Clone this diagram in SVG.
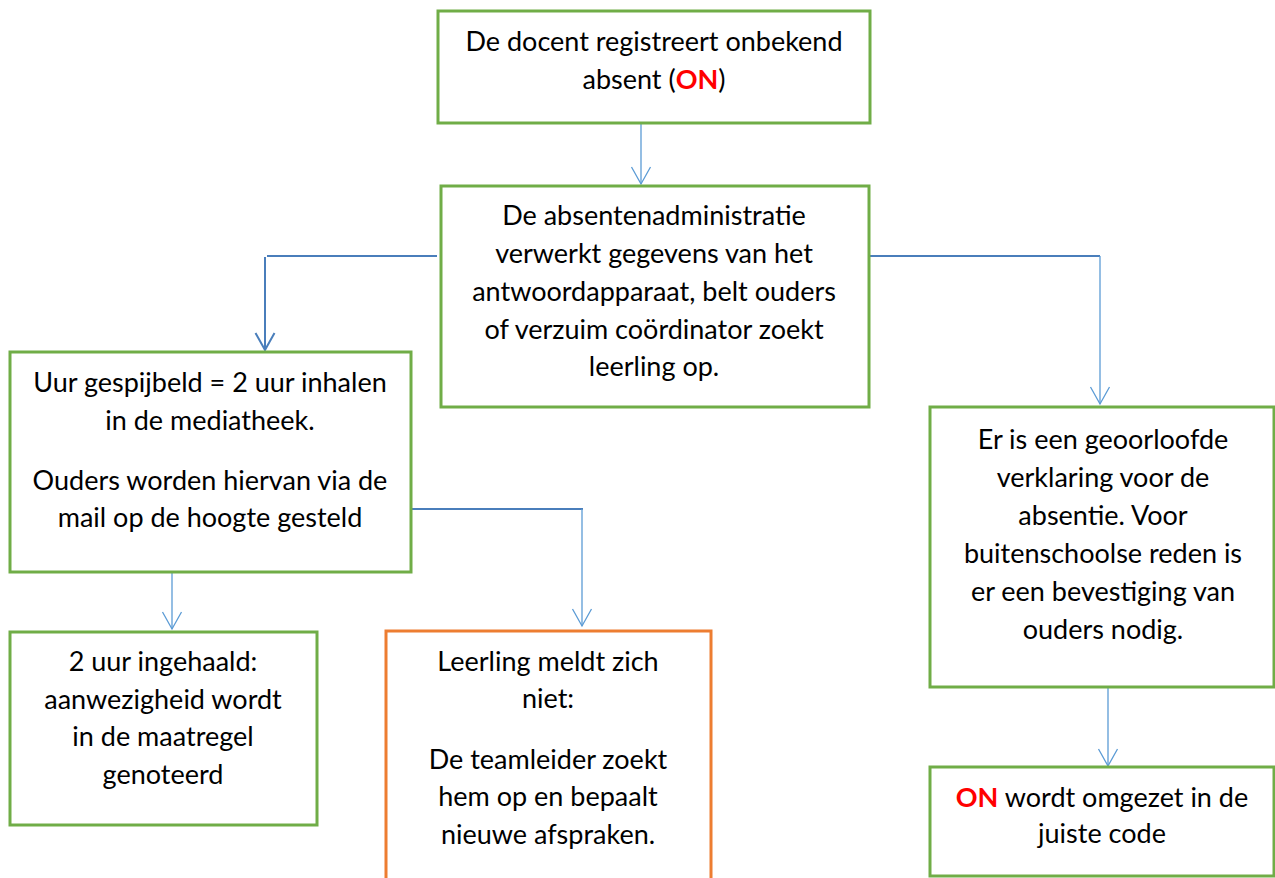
<svg xmlns="http://www.w3.org/2000/svg" width="1275" height="878" viewBox="0 0 1275 878">
<defs>
<style>
.box{fill:#fff;stroke:#70ad47;stroke-width:3}
.obox{fill:#fff;stroke:#ed7d31;stroke-width:3}
.t{font-family:Lato,"Open Sans","Liberation Sans",sans-serif;font-size:27px;fill:#000;text-anchor:middle}
.red{fill:#ff0000;font-weight:bold}
.thick{fill:none;stroke:#4a7ebb;stroke-width:2}
.thin{fill:none;stroke:#5b9bd5;stroke-width:1.3}
</style>
<marker id="ah" markerUnits="userSpaceOnUse" viewBox="-20 -12 22 24" refX="0" refY="0" markerWidth="22" markerHeight="24" orient="auto">
<path d="M-17,-9.5 L0,0 L-17,9.5" fill="none" stroke="#5b9bd5" stroke-width="1.3"/>
</marker>
<marker id="ahb" markerUnits="userSpaceOnUse" viewBox="-20 -12 22 24" refX="0" refY="0" markerWidth="22" markerHeight="24" orient="auto">
<path d="M-17,-9.5 L0,0 L-17,9.5" fill="none" stroke="#4a7ebb" stroke-width="2"/>
</marker>
</defs>
<rect width="1275" height="878" fill="#fff"/>
<g id="connectors">
<path class="thin" d="M641,124 V184" marker-end="url(#ah)"/>
<path class="thick" d="M437,256 H267"/>
<path class="thick" d="M265,257 V350" marker-end="url(#ahb)"/>
<path class="thick" d="M870,256 H1100"/>
<path class="thin" d="M1100,256 V404" marker-end="url(#ah)"/>
<path class="thick" d="M412,509 H583"/>
<path class="thin" d="M582,509 V626" marker-end="url(#ah)"/>
<path class="thin" d="M172,573 V629" marker-end="url(#ah)"/>
<path class="thin" d="M1108,687 V766" marker-end="url(#ah)"/>
</g>
<g id="n1">
<rect class="box" x="438" y="11" width="432" height="112"/>
<text class="t" x="654" y="51">De docent registreert onbekend</text>
<text class="t" x="654" y="89">absent (<tspan class="red">ON</tspan>)</text>
</g>
<g id="n2">
<rect class="box" x="441" y="186" width="428" height="221"/>
<text class="t" x="654" y="225">De absentenadministratie</text>
<text class="t" x="654" y="263">verwerkt gegevens van het</text>
<text class="t" x="654" y="301">antwoordapparaat, belt ouders</text>
<text class="t" x="654" y="339">of verzuim coördinator zoekt</text>
<text class="t" x="654" y="376">leerling op.</text>
</g>
<g id="n3">
<rect class="box" x="10" y="352" width="401" height="220"/>
<text class="t" x="210" y="392">Uur gespijbeld = 2 uur inhalen</text>
<text class="t" x="210" y="430">in de mediatheek.</text>
<text class="t" x="210" y="490">Ouders worden hiervan via de</text>
<text class="t" x="210" y="527">mail op de hoogte gesteld</text>
</g>
<g id="n4">
<rect class="box" x="10" y="632" width="307" height="193"/>
<text class="t" x="163" y="671">2 uur ingehaald:</text>
<text class="t" x="163" y="709">aanwezigheid wordt</text>
<text class="t" x="163" y="746">in de maatregel</text>
<text class="t" x="163" y="784">genoteerd</text>
</g>
<g id="n5">
<rect class="obox" x="386" y="631" width="325" height="260"/>
<text class="t" x="548" y="671">Leerling meldt zich</text>
<text class="t" x="548" y="708">niet:</text>
<text class="t" x="548" y="769">De teamleider zoekt</text>
<text class="t" x="548" y="806">hem op en bepaalt</text>
<text class="t" x="548" y="844">nieuwe afspraken.</text>
</g>
<g id="n6">
<rect class="box" x="930" y="407" width="344" height="280"/>
<text class="t" x="1103" y="449">Er is een geoorloofde</text>
<text class="t" x="1103" y="487">verklaring voor de</text>
<text class="t" x="1103" y="525">absentie. Voor</text>
<text class="t" x="1103" y="563">buitenschoolse reden is</text>
<text class="t" x="1103" y="601">er een bevestiging van</text>
<text class="t" x="1103" y="639">ouders nodig.</text>
</g>
<g id="n7">
<rect class="box" x="930" y="767" width="344" height="109"/>
<text class="t" x="1102" y="807"><tspan class="red">ON</tspan> wordt omgezet in de</text>
<text class="t" x="1102" y="843">juiste code</text>
</g>
</svg>
